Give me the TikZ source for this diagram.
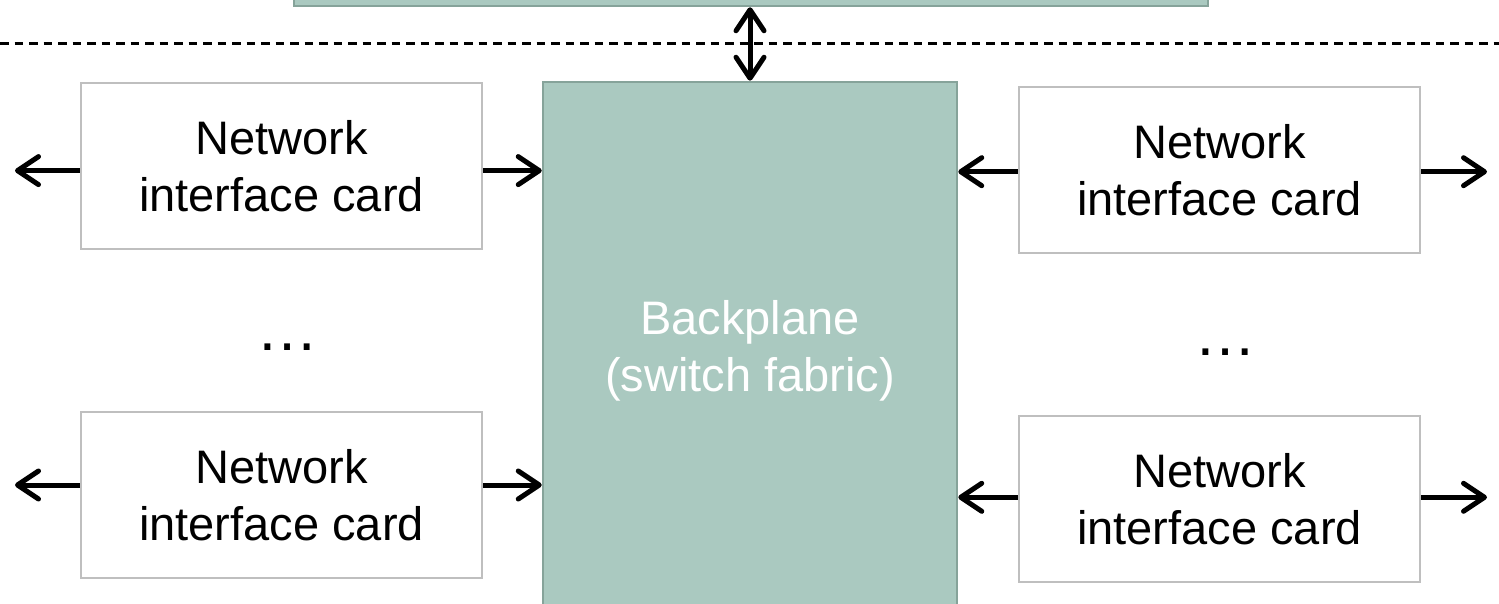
\documentclass[tikz,border=0pt]{standalone}
\usepackage{fontspec}
\setmainfont{Liberation Sans}
\usetikzlibrary{arrows.meta,calc}
\definecolor{tealfill}{HTML}{AAC9C0}
\definecolor{tealline}{HTML}{86A39A}
\definecolor{nicline}{HTML}{BFBFBF}
\begin{document}
\begin{tikzpicture}[x=1pt,y=-1pt,
  font=\fontsize{47}{57}\selectfont,
  nic/.style={draw=nicline,line width=2.5pt,fill=white,minimum width=401pt,
    minimum height=166pt,inner sep=0pt,align=center},
  tealbox/.style={draw=tealline,fill=tealfill,line width=2.5pt,inner sep=0pt},
  barb/.tip={Straight Barb[length=21pt,width=28pt,round]},
  arr/.style={line width=5pt,-barb},
  dotsstyle/.style={font=\fontsize{62}{70}\selectfont,anchor=base,inner sep=0pt}
]
\useasboundingbox (0,0) rectangle (1499,604);
\clip (0,0) rectangle (1499,604);

% host box (cut off at top)
\node[tealbox,minimum width=914pt,minimum height=60pt] (host) at (751,-24) {};

% dashed separator
\draw[line width=3pt,dash pattern=on 8.5pt off 6pt] (0,44) -- (1499,44);

% backplane
\node[tealbox,minimum width=414pt,minimum height=537pt,text=white,align=center]
  (bp) at (750,350.5) {Backplane\\(switch fabric)};

% network interface cards
\node[nic] (nicL1) at (281.5,166) {Network\\interface card};
\node[nic] (nicL2) at (281.5,494.8) {Network\\interface card};
\node[nic] (nicR1) at (1219.5,170.2) {Network\\interface card};
\node[nic] (nicR2) at (1219.5,499) {Network\\interface card};

% ellipses
\node[dotsstyle] (dotsL) at (287,350) {…};
\node[dotsstyle] (dotsR) at (1225,355) {…};

% double arrow host <-> backplane
\draw[line width=5pt,barb-barb] (bp.north |- host.south) -- (bp.north);

% connection points
\coordinate (l1) at ($(nicL1.east)+(0,4.6)$);
\coordinate (l1o) at ($(nicL1.west)+(0,4.6)$);
\coordinate (l2) at ($(nicL2.east)+(0,-9.8)$);
\coordinate (l2o) at ($(nicL2.west)+(0,-9.8)$);
\coordinate (r1) at ($(nicR1.west)+(0,1.5)$);
\coordinate (r1o) at ($(nicR1.east)+(0,1.5)$);
\coordinate (r2) at ($(nicR2.west)+(0,-1.7)$);
\coordinate (r2o) at ($(nicR2.east)+(0,-1.7)$);
\coordinate (outL1) at (15,170.6);
\coordinate (outL2) at (15,485);
\coordinate (outR1) at (1487,171.7);
\coordinate (outR2) at (1487,497.3);

% arrows
\draw[arr] (l1o) -- (outL1);
\draw[arr] (l1) -- (l1 -| bp.west);
\draw[arr] (l2o) -- (outL2);
\draw[arr] (l2) -- (l2 -| bp.west);
\draw[arr] (r1) -- (r1 -| bp.east);
\draw[arr] (r1o) -- (outR1);
\draw[arr] (r2) -- (r2 -| bp.east);
\draw[arr] (r2o) -- (outR2);
\end{tikzpicture}
\end{document}
